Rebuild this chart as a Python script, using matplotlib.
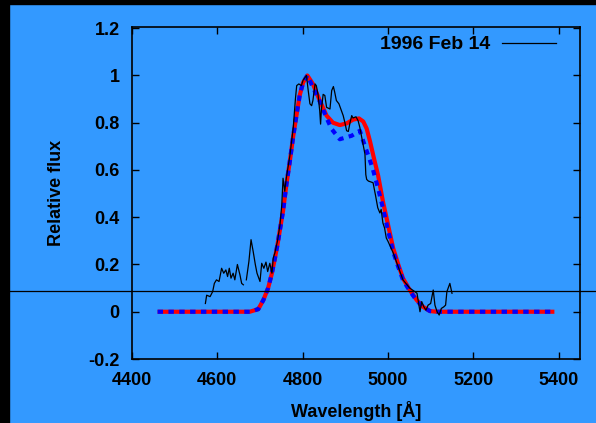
import numpy as np
import matplotlib
matplotlib.use("Agg")
import matplotlib.pyplot as plt
from matplotlib.lines import Line2D
from matplotlib.patches import Rectangle

BG = "#3399ff"
FONT = ["Liberation Sans", "DejaVu Sans"]
plt.rcParams["font.family"] = FONT
plt.rcParams["font.weight"] = "bold"

# observed spectrum, 1996 Feb 14 (nan = gap in data)
obs_wl = [4572, 4575, 4583, 4589, 4593, 4598, 4604, 4610, 4615, 4620, 4624, 4628,
          4632, 4637, 4641, 4647, 4653, 4657, 4661, 4662, 4668, 4674, 4679, 4684,
          4689, 4693, 4700, 4704, 4709, 4714, 4718, 4723, 4728, 4731, 4735, 4741,
          4747, 4751, 4754, 4758, 4762, 4770, 4778, 4783, 4786, 4791, 4797, 4801,
          4809, 4813, 4817, 4821, 4824, 4829, 4832, 4836, 4840, 4842, 4844, 4848,
          4852, 4856, 4864, 4868, 4872, 4875, 4879, 4885, 4891, 4895, 4899, 4903,
          4907, 4911, 4915, 4918, 4925, 4930, 4934, 4940, 4946, 4948, 4950, 4954,
          4965, 4971, 4976, 4981, 4984, 4988, 4992, 4996, 5000, 5012, 5024, 5035,
          5051, 5063, 5068, 5075, 5079, 5084, 5089, 5094, 5100, 5106, 5110, 5115,
          5120, 5125, 5131, 5135, 5138, 5145, 5150]
obs_flux = [0.035, 0.07, 0.064, 0.085, 0.12, 0.135, 0.128, 0.184, 0.163, 0.177, 0.149, 0.184,
            0.142, 0.163, 0.135, 0.2, 0.156, 0.12, 0.114, np.nan, 0.135, 0.213, 0.305, 0.255,
            0.2, 0.163, 0.128, 0.205, 0.184, 0.21, 0.17, 0.205, 0.163, 0.227, 0.25, 0.30,
            0.37, 0.45, 0.565, 0.51, 0.57, 0.66, 0.78, 0.90, 0.957, 0.964, 0.957, 0.98,
            1.0, 0.936, 0.88, 0.872, 0.894, 0.964, 0.957, 0.92, 0.85, 0.794, 0.858, 0.92,
            0.915, 0.865, 0.858, 0.936, 0.953, 0.93, 0.894, 0.88, 0.85, 0.83, 0.80, 0.766,
            0.763, 0.80, 0.83, 0.82, 0.825, 0.808, 0.78, 0.723, 0.667, 0.58, 0.56, 0.553,
            0.546, 0.49, 0.44, 0.418, 0.433, 0.376, 0.354, 0.312, 0.298, 0.25, 0.19, 0.135,
            0.10, 0.085, 0.078, 0.0, 0.043, 0.021, 0.007, 0.028, 0.035, 0.092, 0.028, 0.0,
            -0.014, 0.014, 0.021, 0.028, 0.085, 0.12, 0.078]

# model 1 (red, solid)
mod1_wl = [4460, 4660, 4676, 4696, 4708, 4719, 4727, 4735, 4741, 4747, 4754, 4762,
           4770, 4778, 4786, 4793, 4801, 4811, 4824, 4840, 4856, 4871, 4887, 4903,
           4918, 4932, 4942, 4950, 4958, 4967, 4977, 4988, 5000, 5012, 5024, 5035,
           5051, 5067, 5082, 5098, 5114, 5390]
mod1_flux = [0.0, 0.0, 0.0, 0.011, 0.05, 0.10, 0.156, 0.227, 0.284, 0.35, 0.426, 0.54,
             0.638, 0.745, 0.837, 0.915, 0.97, 1.0, 0.964, 0.894, 0.83, 0.80, 0.79, 0.797,
             0.813, 0.818, 0.805, 0.775, 0.72, 0.65, 0.575, 0.468, 0.369, 0.27, 0.20, 0.142,
             0.092, 0.05, 0.021, 0.003, 0.0, 0.0]

# model 2 (blue, dashed)
mod2_wl = [4460, 4660, 4676, 4696, 4708, 4719, 4727, 4735, 4741, 4747, 4754, 4762,
           4770, 4778, 4786, 4793, 4801, 4811, 4824, 4840, 4856, 4868, 4887, 4900,
           4915, 4934, 4946, 4956, 4965, 4977, 4988, 5000, 5012, 5024, 5035, 5051,
           5067, 5082, 5098, 5114, 5390]
mod2_flux = [0.0, 0.0, 0.0, 0.011, 0.05, 0.10, 0.156, 0.227, 0.284, 0.35, 0.426, 0.54,
             0.638, 0.745, 0.837, 0.915, 0.97, 1.0, 0.95, 0.89, 0.82, 0.773, 0.73, 0.737,
             0.745, 0.766, 0.70, 0.65, 0.60, 0.52, 0.44, 0.345, 0.255, 0.19, 0.135, 0.088,
             0.048, 0.02, 0.003, 0.0, 0.0]

xticks = [4400, 4600, 4800, 5000, 5200, 5400]
yticks = [-0.2, 0, 0.2, 0.4, 0.6, 0.8, 1.0, 1.2]
ytick_labels = ["-0.2", "0", "0.2", "0.4", "0.6", "0.8", "1", "1.2"]

fig = plt.figure(figsize=(5.96, 4.23), dpi=100, facecolor=BG)
ax = fig.add_axes([132 / 596, 1 - 359 / 423, 448 / 596, 332 / 423])
ax.set_facecolor(BG)

ax.plot(mod1_wl, mod1_flux, color="red", lw=3.0, solid_capstyle="butt", zorder=3)
ax.plot(mod2_wl, mod2_flux, color="blue", lw=3.0, dashes=(1.3, 1.3),
        dash_capstyle="butt", zorder=4)
ax.plot(obs_wl, obs_flux, color="black", lw=0.9, zorder=5)

ax.set_xlim(4400, 5450)
ax.set_ylim(-0.2, 1.205)
ax.set_xticks(xticks)
ax.set_yticks(yticks)
ax.set_yticklabels(ytick_labels)
ax.tick_params(direction="in", length=5, width=1, top=True, right=True,
               labelsize=13, pad=9)
for s in ax.spines.values():
    s.set_linewidth(1.2)

ax.set_xlabel("Wavelength [Å]", fontsize=13, fontweight="bold", labelpad=9)
ax.set_ylabel("Relative flux", fontsize=13, fontweight="bold", labelpad=17)

# legend drawn by hand, gnuplot style
ax.text(0.799, 0.946, "1996 Feb 14", transform=ax.transAxes, ha="right", va="center",
        fontsize=14, fontweight="bold")
ax.add_line(Line2D([0.826, 0.946], [0.952, 0.952], transform=ax.transAxes,
                   color="black", lw=0.9))

# black frame strips and stray horizontal line across the figure
fig.patches.append(Rectangle((0, 0), 9 / 596, 1, transform=fig.transFigure,
                             color="black", zorder=0))
fig.patches.append(Rectangle((0, 1 - 4 / 423), 1, 4 / 423, transform=fig.transFigure,
                             color="black", zorder=0))
fig.lines.append(Line2D([0, 1], [1 - 291 / 423, 1 - 291 / 423],
                        transform=fig.transFigure, color="black", lw=0.9, zorder=10))

fig.savefig("out.png", dpi=100, facecolor=BG)
